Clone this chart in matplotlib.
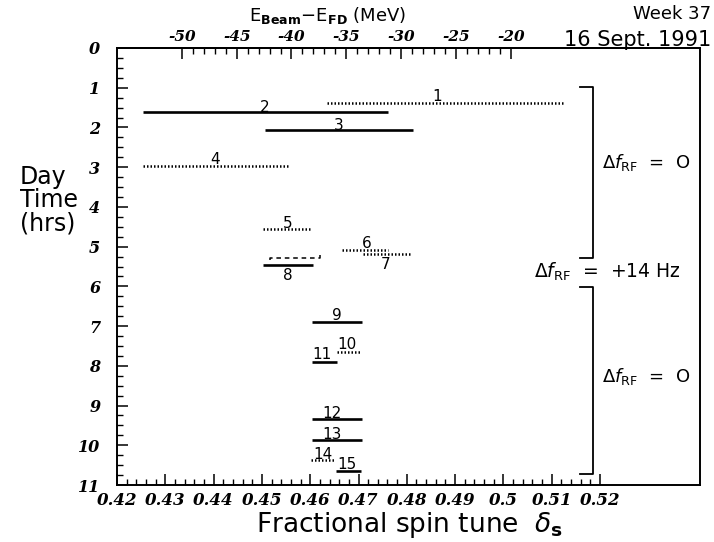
import matplotlib
matplotlib.use('Agg')
import numpy as np
import matplotlib.pyplot as plt
from matplotlib.ticker import MultipleLocator, FixedLocator

# measurements: start / end of the scanned spin tune range and day time
seg_id = ['1', '2', '3', '4', '5', '6', '7', '8', '9', '10', '11', '12', '13', '14', '15']
seg_start = [0.4635, 0.4254, 0.4506, 0.4254, 0.4502, 0.4666, 0.4709, 0.4502,
             0.4604, 0.4656, 0.4604, 0.4604, 0.4604, 0.4602, 0.4654]
seg_end = [0.5128, 0.4761, 0.4813, 0.4554, 0.4604, 0.4761, 0.4811, 0.4606,
           0.4707, 0.4704, 0.4656, 0.4707, 0.4707, 0.4652, 0.4705]
seg_time = [1.38, 1.61, 2.07, 2.97, 4.56, 5.09, 5.19, 5.47,
            6.90, 7.65, 7.90, 9.33, 9.87, 10.38, 10.66]
seg_dotted = [True, False, False, True, True, True, True, False,
              False, True, False, False, False, True, False]
# where the number of each measurement is written
lab_x = [0.4863, 0.4506, 0.4660, 0.4403, 0.4554, 0.4718, 0.4757, 0.4554,
         0.4655, 0.4676, 0.4624, 0.4645, 0.4645, 0.4626, 0.4676]
lab_y = [1.23, 1.49, 1.94, 2.80, 4.41, 4.91, 5.44, 5.72,
         6.73, 7.46, 7.71, 9.19, 9.72, 10.23, 10.48]

# dashed bracket above measurement 8
dash_start, dash_end, dash_time = 0.4516, 0.4620, 5.29

# rf frequency periods
rf_from = [0.98, 6.02]
rf_to = [5.29, 10.73]

# spin tune -> E_beam - E_FD (MeV)
MEV_PER_TUNE = 440.65
TUNE_FD = 0.5469


def to_mev(d):
    return (d - TUNE_FD) * MEV_PER_TUNE


def to_tune(e):
    return e / MEV_PER_TUNE + TUNE_FD


tickfont = dict(family='DejaVu Serif', weight='bold', style='italic', size=12)
yfont = dict(family='DejaVu Serif', weight='bold', style='italic', size=11.5)
topfont = dict(family='DejaVu Serif', weight='bold', style='italic', size=11)

fig = plt.figure(figsize=(7.14, 5.42), dpi=100)
ax = fig.add_axes([117/714, 1-485/542, (700-117)/714, (485-48)/542])

for s, e, t, d in zip(seg_start, seg_end, seg_time, seg_dotted):
    if d:
        ax.plot([s, e], [t, t], color='black', lw=1.8, ls=(0, (0.6, 0.8)))
    else:
        ax.plot([s, e], [t, t], color='black', lw=1.9, solid_capstyle='butt')

for n, x, y in zip(seg_id, lab_x, lab_y):
    ax.text(x, y, n, ha='center', va='center', fontsize=11, color='black')

ax.plot([dash_start, dash_start, dash_end, dash_end],
        [dash_time + 0.05, dash_time, dash_time, dash_time - 0.1],
        color='black', lw=1.1, ls=(0, (3, 2.5)))

# brackets on the right
bx0, bx1 = 0.5159, 0.5186
for a, b in zip(rf_from, rf_to):
    ax.plot([bx0, bx1, bx1, bx0], [a, a, b, b], color='black', lw=1.3)

ax.text(0.5296, (rf_from[0] + rf_to[0]) / 2 - 0.25, r'$\Delta f_{\mathsf{RF}}$  =  O',
        ha='center', va='center', fontsize=13)
ax.text(0.5296, (rf_from[1] + rf_to[1]) / 2 - 0.1, r'$\Delta f_{\mathsf{RF}}$  =  O',
        ha='center', va='center', fontsize=13)
ax.text(0.5216, 5.64, r'$\Delta f_{\mathsf{RF}}$  =  +14 Hz',
        ha='center', va='center', fontsize=13.5)

ax.set_xlim(0.42, 0.5407)
ax.set_ylim(11, 0)

ax.xaxis.set_major_locator(FixedLocator(np.round(np.arange(0.42, 0.5201, 0.01), 3)))
ax.xaxis.set_minor_locator(FixedLocator(np.arange(0.42, 0.5201, 0.002)))
ax.set_xticklabels(['0.42', '0.43', '0.44', '0.45', '0.46', '0.47', '0.48',
                    '0.49', '0.5', '0.51', '0.52'], fontdict=tickfont)
ax.yaxis.set_minor_locator(MultipleLocator(0.25))
ax.set_yticks(range(12))
ax.set_yticklabels([str(i) for i in range(12)], fontdict=yfont)

ax.tick_params(axis='x', which='both', direction='in', top=False, pad=5)
ax.tick_params(axis='y', which='both', direction='in', right=False, pad=12)
ax.tick_params(which='major', length=8, width=1.1)
ax.tick_params(which='minor', length=4, width=1.0)
for sp in ax.spines.values():
    sp.set_linewidth(1.4)

top = ax.secondary_xaxis('top', functions=(to_mev, to_tune))
top.xaxis.set_major_locator(FixedLocator(list(range(-50, -19, 5))))
top.xaxis.set_minor_locator(FixedLocator(list(range(-50, -19, 1))))
top.set_xticklabels([str(v) for v in range(-50, -19, 5)], fontdict=topfont)
top.tick_params(which='both', direction='in', pad=3)
top.tick_params(which='major', length=8, width=1.1)
top.tick_params(which='minor', length=4, width=1.0)
top.spines['top'].set_linewidth(1.4)

fig.text(328/714, 1-15/542, r'E$_{\mathbf{Beam}}$$-$E$_{\mathbf{FD}}$ (MeV)',
         ha='center', va='center', fontsize=13)
fig.text(711/714, 1-14/542, 'Week 37', ha='right', va='center', fontsize=13)
fig.text(711/714, 1-40/542, '16 Sept. 1991', ha='right', va='center', fontsize=15)
fig.text(20/714, 1-200/542, 'Day\nTime\n(hrs)', ha='left', va='center',
         fontsize=17, linespacing=0.95)
fig.text(410/714, 1-525/542, r'Fractional spin tune  $\delta_{\mathbf{s}}$',
         ha='center', va='center', fontsize=19)

fig.savefig('out.png', dpi=100)
